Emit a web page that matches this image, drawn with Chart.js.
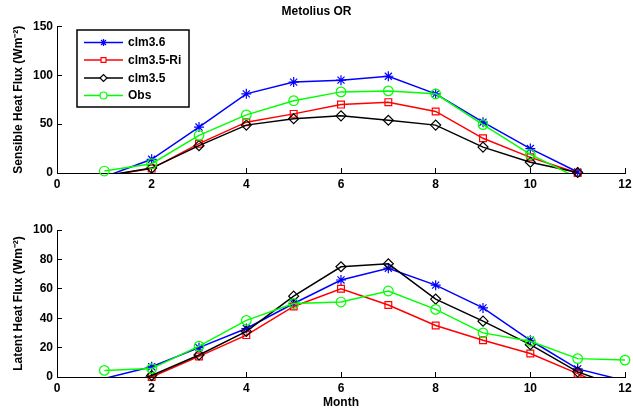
<!DOCTYPE html>
<html>
<head>
<meta charset="utf-8">
<script src="https://cdn.jsdelivr.net/npm/chart.js@4.4.0/dist/chart.umd.min.js"></script>
<style>
  body { margin: 0; background: #fff; }
  #topChart { position: absolute; left: 0; top: 0; }
  #botChart { position: absolute; left: 0; top: 200px; }
</style>
</head>
<body>
<canvas id="topChart" width="633" height="200"></canvas>
<canvas id="botChart" width="633" height="213"></canvas>
<script>
// ---- data (monthly means) ----
const months = [1, 2, 3, 4, 5, 6, 7, 8, 9, 10, 11, 12];
const seriesNames = ["clm3.6", "clm3.5-Ri", "clm3.5", "Obs"];

// sensible heat flux (W m-2)
const shClm36  = [-4, 14, 47, 81, 93, 95, 99, 81, 52, 25, 1, null];
const shClm35Ri = [-3, 4.5, 30, 52, 60.5, 70, 72.5, 63, 35.5, 16, 0, null];
const shClm35  = [-3, 5, 28, 49, 55.5, 58.5, 54, 49, 26.5, 11, 0.5, null];
const shObs    = [2, 9.5, 38.5, 59.5, 74, 83, 84, 81, 49.5, 19, -5, null];

// latent heat flux (W m-2)
const lhClm36  = [-1, 7, 20, 33, 50, 66, 74, 62.5, 47, 25, 5.5, -2.5];
const lhClm35Ri = [-8, 0, 14, 28.5, 48, 60, 49, 35, 25, 16, 2.3, -12];
const lhClm35  = [-9, 1, 15, 31, 55, 75, 77, 53, 38, 22, 3.5, -8];
const lhObs    = [4.5, 5.7, 21, 38.5, 50, 51, 58.5, 46, 30, 24.3, 12.5, 11.5];

const xTicks = [0, 2, 4, 6, 8, 10, 12];

// ---- styles ----
const FONT = "'Liberation Sans', Arial, Helvetica, sans-serif";
const styles = [
  { color: "#0000ff", point: "star",    r: 5 },
  { color: "#ff0000", point: "rect",    r: 4.8 },
  { color: "#000000", point: "rectRot", r: 5 },
  { color: "#00ff00", point: "circle",  r: 4.8 }
];

function buildDatasets(seriesList) {
  const out = [];
  seriesList.forEach((vals, i) => {
    const st = styles[i];
    const pts = months.map((m, k) => ({ x: m, y: vals[k] }));
    const base = 8 - i * 2;
    // line, clipped to the axes
    out.push({
      label: seriesNames[i], data: pts, order: base,
      borderColor: st.color, borderWidth: 1.5, pointRadius: 0,
      fill: false, tension: 0, clip: 0
    });
    // markers, hidden when below the axis
    out.push({
      label: seriesNames[i] + " markers", data: pts, order: base - 1,
      showLine: false, clip: false,
      pointStyle: st.point, borderColor: st.color, backgroundColor: "rgba(0,0,0,0)",
      pointBorderWidth: 1.2,
      pointRadius: ctx => (ctx.raw && ctx.raw.y !== null && ctx.raw.y < 0) ? 0 : st.r
    });
  });
  return out;
}

function xAxis(height, withTitle) {
  return {
    type: "linear", min: 0, max: 12,
    afterBuildTicks: s => { s.ticks = xTicks.map(v => ({ value: v })); },
    afterFit: s => { s.height = height; s.paddingLeft = 0; s.paddingRight = 8; },
    grid: { drawOnChartArea: false, drawTicks: true, tickLength: -5, color: "#000", lineWidth: 1 },
    border: { display: true, color: "#000", width: 1 },
    ticks: { color: "#000", padding: 9, maxRotation: 0, font: { family: FONT, size: 12, weight: "bold" } },
    title: {
      display: withTitle, text: "Month", color: "#000",
      font: { family: FONT, size: 12, weight: "bold" }, padding: { top: 0, bottom: 3 }
    }
  };
}

function yAxis(max, step, label) {
  return {
    min: 0, max: max,
    afterFit: s => { s.width = 57; },
    grid: { drawOnChartArea: false, drawTicks: true, tickLength: -5, color: "#000", lineWidth: 1 },
    border: { display: true, color: "#000", width: 1 },
    ticks: { stepSize: step, color: "#000", padding: 9, font: { family: FONT, size: 12, weight: "bold" } },
    title: {
      display: true, text: label, color: "#000",
      font: { family: FONT, size: 12, weight: "bold" }, padding: { top: 11, bottom: 0 }
    }
  };
}

// legend box drawn inside the upper axes
const boxLegend = {
  id: "boxLegend",
  afterDraw(chart) {
    const ctx = chart.ctx;
    ctx.save();
    ctx.fillStyle = "#fff";
    ctx.fillRect(77, 30, 112, 77);
    ctx.strokeStyle = "#000";
    ctx.lineWidth = 1.5;
    ctx.strokeRect(77, 30, 112, 77);
    const rows = [42.5, 60, 78, 95.5];
    seriesNames.forEach((name, i) => {
      const st = styles[i], y = rows[i];
      ctx.strokeStyle = st.color;
      ctx.lineWidth = 1.5;
      ctx.beginPath();
      ctx.moveTo(84, y);
      ctx.lineTo(123, y);
      ctx.stroke();
      ctx.fillStyle = "#fff";
      ctx.lineWidth = 1.2;
      Chart.helpers.drawPoint(ctx, { pointStyle: st.point, radius: 3.5, borderWidth: 1.2, rotation: 0 }, 103.5, y);
      ctx.fillStyle = "#000";
      ctx.font = "bold 12px " + FONT;
      ctx.textBaseline = "middle";
      ctx.textAlign = "left";
      ctx.fillText(name, 128, y + 0.5);
    });
    ctx.restore();
  }
};

const common = {
  responsive: false,
  animation: false,
  events: [],
  plugins: { legend: { display: false }, tooltip: { enabled: false } }
};

new Chart(document.getElementById("topChart"), {
  type: "line",
  data: { datasets: buildDatasets([shClm36, shClm35Ri, shClm35, shObs]) },
  options: {
    ...common,
    layout: { padding: { top: 0, right: 0, left: 0, bottom: 0 } },
    plugins: {
      ...common.plugins,
      title: {
        display: true, text: "Metolius OR", color: "#000",
        font: { family: FONT, size: 12, weight: "bold" }, padding: { top: 4, bottom: 8 }
      }
    },
    scales: {
      x: xAxis(27, false),
      y: yAxis(150, 50, "Sensible Heat Flux (Wm⁻²)")
    }
  },
  plugins: [boxLegend]
});

new Chart(document.getElementById("botChart"), {
  type: "line",
  data: { datasets: buildDatasets([lhClm36, lhClm35Ri, lhClm35, lhObs]) },
  options: {
    ...common,
    layout: { padding: { top: 30, right: 0, left: 0, bottom: 0 } },
    scales: {
      x: xAxis(36, true),
      y: yAxis(100, 20, "Latent Heat Flux (Wm⁻²)")
    }
  }
});
</script>
</body>
</html>
